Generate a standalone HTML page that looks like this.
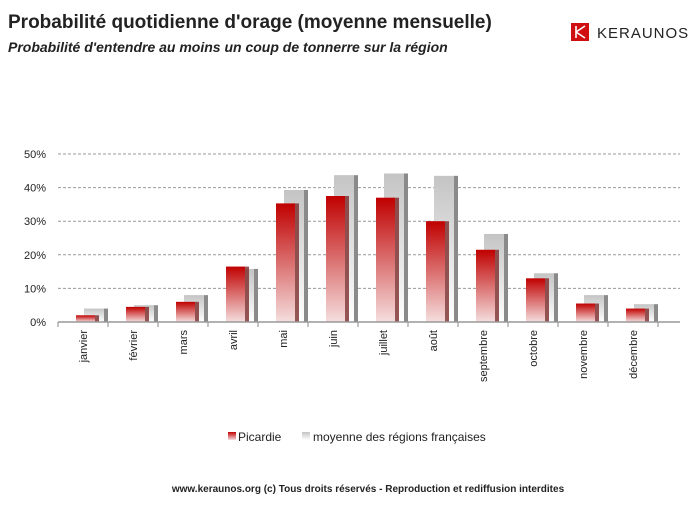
<!DOCTYPE html>
<html><head><meta charset="utf-8"><style>
body{margin:0;background:#fff;width:700px;height:500px;overflow:hidden;font-family:"Liberation Sans",sans-serif}
</style></head><body>
<svg width="700" height="500" xmlns="http://www.w3.org/2000/svg">
<defs>
<linearGradient id="gr" x1="0" y1="0" x2="0" y2="1"><stop offset="0" stop-color="#c00000"/><stop offset="1" stop-color="#f5dede"/></linearGradient>
<linearGradient id="gg" x1="0" y1="0" x2="0" y2="1"><stop offset="0" stop-color="#c4c4c4"/><stop offset="1" stop-color="#ffffff"/></linearGradient>
</defs>
<text x="8" y="28" font-size="19" font-weight="bold" fill="#222">Probabilité quotidienne d'orage (moyenne mensuelle)</text>
<text x="8" y="52" font-size="14" font-weight="bold" font-style="italic" fill="#222">Probabilité d'entendre au moins un coup de tonnerre sur la région</text>
<g>
<rect x="571" y="23" width="18" height="18" fill="#d01010"/>
<path d="M576 26 V38 M576 32 L585 26 M576 32 L585 38" stroke="#fff" stroke-width="1.6" fill="none"/>
<text x="597" y="38" font-size="15" fill="#222" letter-spacing="1">KERAUNOS</text>
</g>
<g id="grid"></g><g id="bars"></g><g id="axes"></g>
<g>
<rect x="228" y="432" width="8" height="8" fill="url(#gr)"/>
<text x="238" y="441" font-size="12" fill="#222">Picardie</text>
<rect x="302" y="432" width="8" height="8" fill="url(#gg)"/>
<text x="313" y="441" font-size="12" fill="#222">moyenne des régions françaises</text>
</g>
<text x="368" y="492" font-size="10" font-weight="bold" fill="#222" text-anchor="middle">www.keraunos.org  (c) Tous droits réservés - Reproduction et rediffusion interdites</text>
</svg>
<script>
const categories=["janvier","février","mars","avril","mai","juin","juillet","août","septembre","octobre","novembre","décembre"];
const picardie=[2,4.5,6,16.5,35.3,37.5,37,30,21.5,13,5.5,4];
const moyenne=[4,5,8,15.8,39.3,43.7,44.2,43.5,26.2,14.5,8,5.3];
const yTicks=[0,10,20,30,40,50];
const NS="http://www.w3.org/2000/svg";
const x0=58,step=50,yBase=322,yTop=154,yMax=50;
const y=v=>yBase-(v/yMax)*(yBase-yTop);
const xc=i=>x0+i*step;
function mk(t,a,p){const e=document.createElementNS(NS,t);for(const k in a)e.setAttribute(k,a[k]);p.appendChild(e);return e;}
const grid=document.getElementById('grid'),bars=document.getElementById('bars'),axes=document.getElementById('axes');
yTicks.forEach(t=>{
 if(t>0){const l=mk('line',{x1:x0,x2:680,y1:y(t),y2:y(t),stroke:'#999','stroke-dasharray':'3,2','stroke-width':1},grid);
 
 }
 const tx=mk('text',{x:46,y:y(t)+4,'font-size':11,'text-anchor':'end',fill:'#222'},axes);tx.textContent=t+'%';
 
 
});
categories.forEach((c,i)=>{
 const gx=xc(i)+26,gy=y(moyenne[i]);
 const g=mk('rect',{x:gx,y:gy,width:20,height:yBase-gy,fill:'url(#gg)'},bars);
 
 
 const gs=mk('rect',{x:gx+20,y:gy,width:4,height:yBase-gy,fill:'#8a8a8a'},bars);
 
 
 const rx=xc(i)+18,ry=y(picardie[i]);
 const r=mk('rect',{x:rx,y:ry,width:19,height:yBase-ry,fill:'url(#gr)'},bars);
 
 
 const rs=mk('rect',{x:rx+19,y:ry,width:4,height:yBase-ry,fill:'#7a2a2a','fill-opacity':0.8},bars);
 
 
 const tk=mk('line',{x1:xc(i+1),x2:xc(i+1),y1:yBase,y2:yBase+5,stroke:'#888'},axes);
 
 
 const lx=xc(i)+29,ly=330;
 const t=mk('text',{x:lx,y:ly,'font-size':11,'text-anchor':'end',fill:'#222',transform:`rotate(-90 ${lx} ${ly})`},axes);
 t.textContent=c;
 
 
});
const ax=mk('line',{x1:x0,x2:680,y1:yBase,y2:yBase,stroke:'#999','stroke-width':1.5},axes);


const t0=mk('line',{x1:x0,x2:x0,y1:yBase,y2:yBase+5,stroke:'#888'},axes);


</script>
</body></html>
